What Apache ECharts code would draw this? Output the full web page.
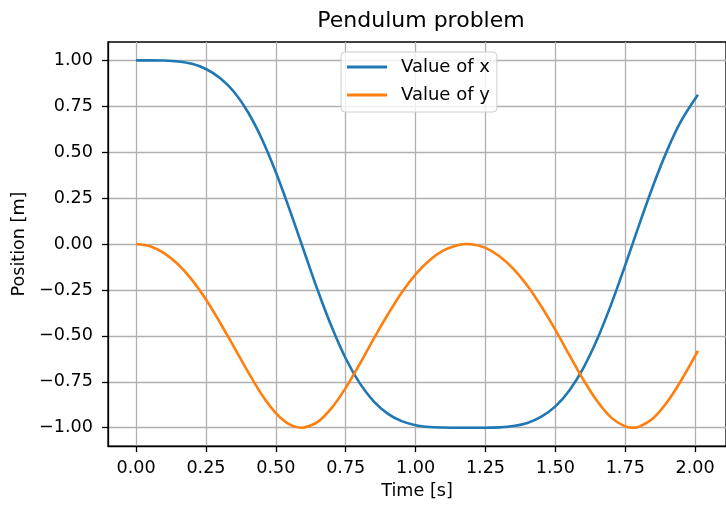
<!DOCTYPE html>
<html>
<head>
<meta charset="utf-8">
<script src="https://cdn.jsdelivr.net/npm/echarts@6/dist/echarts.min.js"></script>
<style>
  html, body { margin: 0; padding: 0; background: #ffffff; }
  #chart { width: 726px; height: 505px; }
</style>
</head>
<body>
<div id="chart"></div>
<script>
// Sample times [s]; the extra samples sit on the turning points of the swing
const time = [
  0.00, 0.05, 0.10, 0.15, 0.20, 0.25, 0.30, 0.35, 0.40, 0.45,
  0.50, 0.55, 0.592, 0.60, 0.65, 0.70, 0.75, 0.80, 0.85, 0.90, 0.95,
  1.00, 1.05, 1.10, 1.15, 1.184, 1.20, 1.25, 1.30, 1.35, 1.40, 1.45,
  1.50, 1.55, 1.60, 1.65, 1.70, 1.75, 1.776, 1.80, 1.85, 1.90, 1.95,
  2.01
];

// Horizontal position of the bob [m]
const xValues = [
  1.000, 1.000, 0.999, 0.994, 0.981, 0.953, 0.904, 0.829, 0.719, 0.572,
  0.391, 0.184, 0.000, -0.035, -0.253, -0.452, -0.623, -0.757, -0.856, -0.923, -0.964,
  -0.986, -0.996, -0.999, -1.000, -1.000, -1.000, -1.000, -0.998, -0.991, -0.974, -0.940,
  -0.884, -0.797, -0.675, -0.517, -0.327, -0.115, 0.000, 0.106, 0.319, 0.510, 0.670,
  0.813
];

// Vertical position of the bob [m]
const yValues = [
  0.000, -0.012, -0.049, -0.110, -0.195, -0.302, -0.427, -0.560, -0.695, -0.820,
  -0.920, -0.983, -1.000, -0.999, -0.968, -0.892, -0.783, -0.653, -0.516, -0.385, -0.265,
  -0.165, -0.088, -0.035, -0.006, 0.000, -0.001, -0.021, -0.066, -0.135, -0.227, -0.340,
  -0.467, -0.604, -0.738, -0.856, -0.945, -0.993, -1.000, -0.994, -0.948, -0.860, -0.743,
  -0.582
];

const xTicks = [0, 0.25, 0.5, 0.75, 1.0, 1.25, 1.5, 1.75, 2.0];
const yTicks = [-1.0, -0.75, -0.5, -0.25, 0, 0.25, 0.5, 0.75, 1.0];

const seriesNames = ['Value of x', 'Value of y'];
const seriesColors = ['#1f77b4', '#ff7f0e'];
const titleText = 'Pendulum problem';
const xAxisLabel = 'Time [s]';
const yAxisLabel = 'Position [m]';

const FONT = 'DejaVu Sans';
const fmt = v => (v < 0 ? '\u2212' : '') + Math.abs(v).toFixed(2);
const pairs = vals => time.map((t, i) => [t, vals[i]]);

const chart = echarts.init(document.getElementById('chart'), null, { renderer: 'canvas' });

const axisText = { fontFamily: FONT, fontSize: 17.6, color: '#000000' };

chart.setOption({
  animation: false,
  backgroundColor: '#ffffff',
  title: {
    text: titleText,
    left: 421,
    top: 10,
    textAlign: 'center',
    padding: 0,
    textStyle: { fontFamily: FONT, fontSize: 22, fontWeight: 'normal', color: '#000000' }
  },
  legend: {
    orient: 'vertical',
    left: 341,
    top: 52,
    data: seriesNames,
    icon: 'rect',
    itemWidth: 40,
    itemHeight: 3,
    itemGap: 8,
    padding: [5, 7, 7, 6],
    backgroundColor: 'rgba(255,255,255,0.8)',
    borderColor: '#cccccc',
    borderWidth: 1,
    borderRadius: 4,
    textStyle: { fontFamily: FONT, fontSize: 18, color: '#000000', lineHeight: 20, padding: [0, 0, 0, 9] }
  },
  grid: {
    left: 108,
    top: 42,
    right: -8.5,
    bottom: 56,
    show: true,
    borderColor: '#000000',
    borderWidth: 1.3,
    backgroundColor: 'transparent'
  },
  xAxis: {
    type: 'value',
    min: -0.1005,
    max: 2.1105,
    name: xAxisLabel,
    nameLocation: 'middle',
    nameGap: 28,
    nameTextStyle: axisText,
    axisLine: { show: true, onZero: false, lineStyle: { color: '#000000', width: 1.3 } },
    axisTick: { show: true, length: 6, customValues: xTicks, lineStyle: { color: '#000000', width: 1.3 } },
    axisLabel: Object.assign({ customValues: xTicks, formatter: fmt, margin: 13 }, axisText),
    splitLine: { show: true, lineStyle: { color: '#b0b0b0', width: 1.3 } }
  },
  yAxis: {
    type: 'value',
    min: -1.1,
    max: 1.1,
    name: yAxisLabel,
    nameLocation: 'middle',
    nameGap: 78,
    nameTextStyle: axisText,
    axisLine: { show: true, onZero: false, lineStyle: { color: '#000000', width: 1.3 } },
    axisTick: { show: true, length: 6, customValues: yTicks, lineStyle: { color: '#000000', width: 1.3 } },
    axisLabel: Object.assign({ customValues: yTicks, formatter: fmt, margin: 15 }, axisText),
    splitLine: { show: true, lineStyle: { color: '#b0b0b0', width: 1.3 } }
  },
  series: [
    {
      name: seriesNames[0],
      type: 'line',
      data: pairs(xValues),
      showSymbol: false,
      symbol: 'none',
      smooth: 0.35,
      color: seriesColors[0],
      lineStyle: { color: seriesColors[0], width: 2.6 }
    },
    {
      name: seriesNames[1],
      type: 'line',
      data: pairs(yValues),
      showSymbol: false,
      symbol: 'none',
      smooth: 0.35,
      color: seriesColors[1],
      lineStyle: { color: seriesColors[1], width: 2.6 }
    }
  ]
});
</script>
</body>
</html>
